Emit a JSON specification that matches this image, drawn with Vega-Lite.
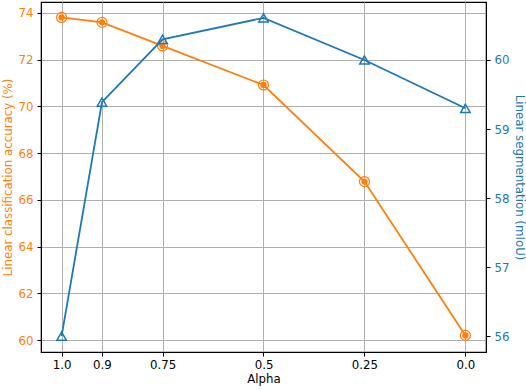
{
  "$schema": "https://vega.github.io/schema/vega-lite/v6.json",
  "autosize": "none",
  "width": 445,
  "height": 350,
  "padding": {"left": 41, "top": 2, "right": 40, "bottom": 38},
  "background": "white",
  "config": {
    "font": "DejaVu Sans",
    "view": {"stroke": "black", "strokeWidth": 1.2},
    "axis": {
      "labelFont": "DejaVu Sans",
      "titleFont": "DejaVu Sans",
      "labelFontSize": 11.8,
      "titleFontSize": 11.8,
      "titleFontWeight": "normal",
      "gridColor": "#b0b0b0",
      "gridWidth": 1,
      "domainColor": "black",
      "tickColor": "black",
      "tickSize": 4,
      "labelPadding": 4
    }
  },
  "data": {
    "values": [
      {"alpha": 1.0, "acc": 73.8, "miou": 56.0},
      {"alpha": 0.9, "acc": 73.59, "miou": 59.39},
      {"alpha": 0.75, "acc": 72.58, "miou": 60.3},
      {"alpha": 0.5, "acc": 70.91, "miou": 60.61},
      {"alpha": 0.25, "acc": 66.78, "miou": 60.0},
      {"alpha": 0.0, "acc": 60.2, "miou": 59.3}
    ]
  },
  "encoding": {
    "x": {
      "field": "alpha",
      "type": "quantitative",
      "scale": {"domain": [-0.051, 1.051], "reverse": true, "nice": false, "zero": false},
      "axis": {
        "title": "Alpha",
        "titleColor": "black",
        "labelColor": "black",
        "values": [1.0, 0.9, 0.75, 0.5, 0.25, 0.0],
        "format": ".2~f",
        "labelExpr": "datum.value == 1 ? '1.0' : (datum.value == 0 ? '0.0' : datum.label)",
        "grid": true,
        "labelPadding": 3,
        "titlePadding": 3
      }
    }
  },
  "layer": [
    {
      "encoding": {
        "y": {
          "field": "acc",
          "type": "quantitative",
          "scale": {"domain": [59.49, 74.46], "nice": false, "zero": false},
          "axis": {
            "orient": "left",
            "title": "Linear classification accuracy (%)",
            "titleColor": "#ff7f0e",
            "labelColor": "#ff7f0e",
            "values": [60, 62, 64, 66, 68, 70, 72, 74],
            "grid": true,
            "titlePadding": 4
          }
        }
      },
      "layer": [
        {"mark": {"type": "line", "color": "#ff7f0e", "strokeWidth": 1.8}},
        {"mark": {"type": "point", "shape": "circle", "filled": false, "stroke": "#ff7f0e", "strokeWidth": 1.2, "size": 100, "opacity": 1}},
        {"mark": {"type": "point", "shape": "circle", "filled": true, "color": "#ff7f0e", "size": 40, "opacity": 1}}
      ]
    },
    {
      "encoding": {
        "y": {
          "field": "miou",
          "type": "quantitative",
          "scale": {"domain": [55.77, 60.84], "nice": false, "zero": false},
          "axis": {
            "orient": "right",
            "title": "Linear segmentation (mIoU)",
            "titleColor": "#1f77b4",
            "labelColor": "#1f77b4",
            "values": [56, 57, 58, 59, 60],
            "grid": false,
            "titlePadding": 4
          }
        }
      },
      "layer": [
        {"mark": {"type": "line", "color": "#1f77b4", "strokeWidth": 1.8}},
        {"mark": {"type": "point", "shape": "triangle-up", "filled": false, "stroke": "#1f77b4", "strokeWidth": 1.5, "size": 90, "opacity": 1}}
      ]
    }
  ],
  "resolve": {"scale": {"y": "independent"}}
}
